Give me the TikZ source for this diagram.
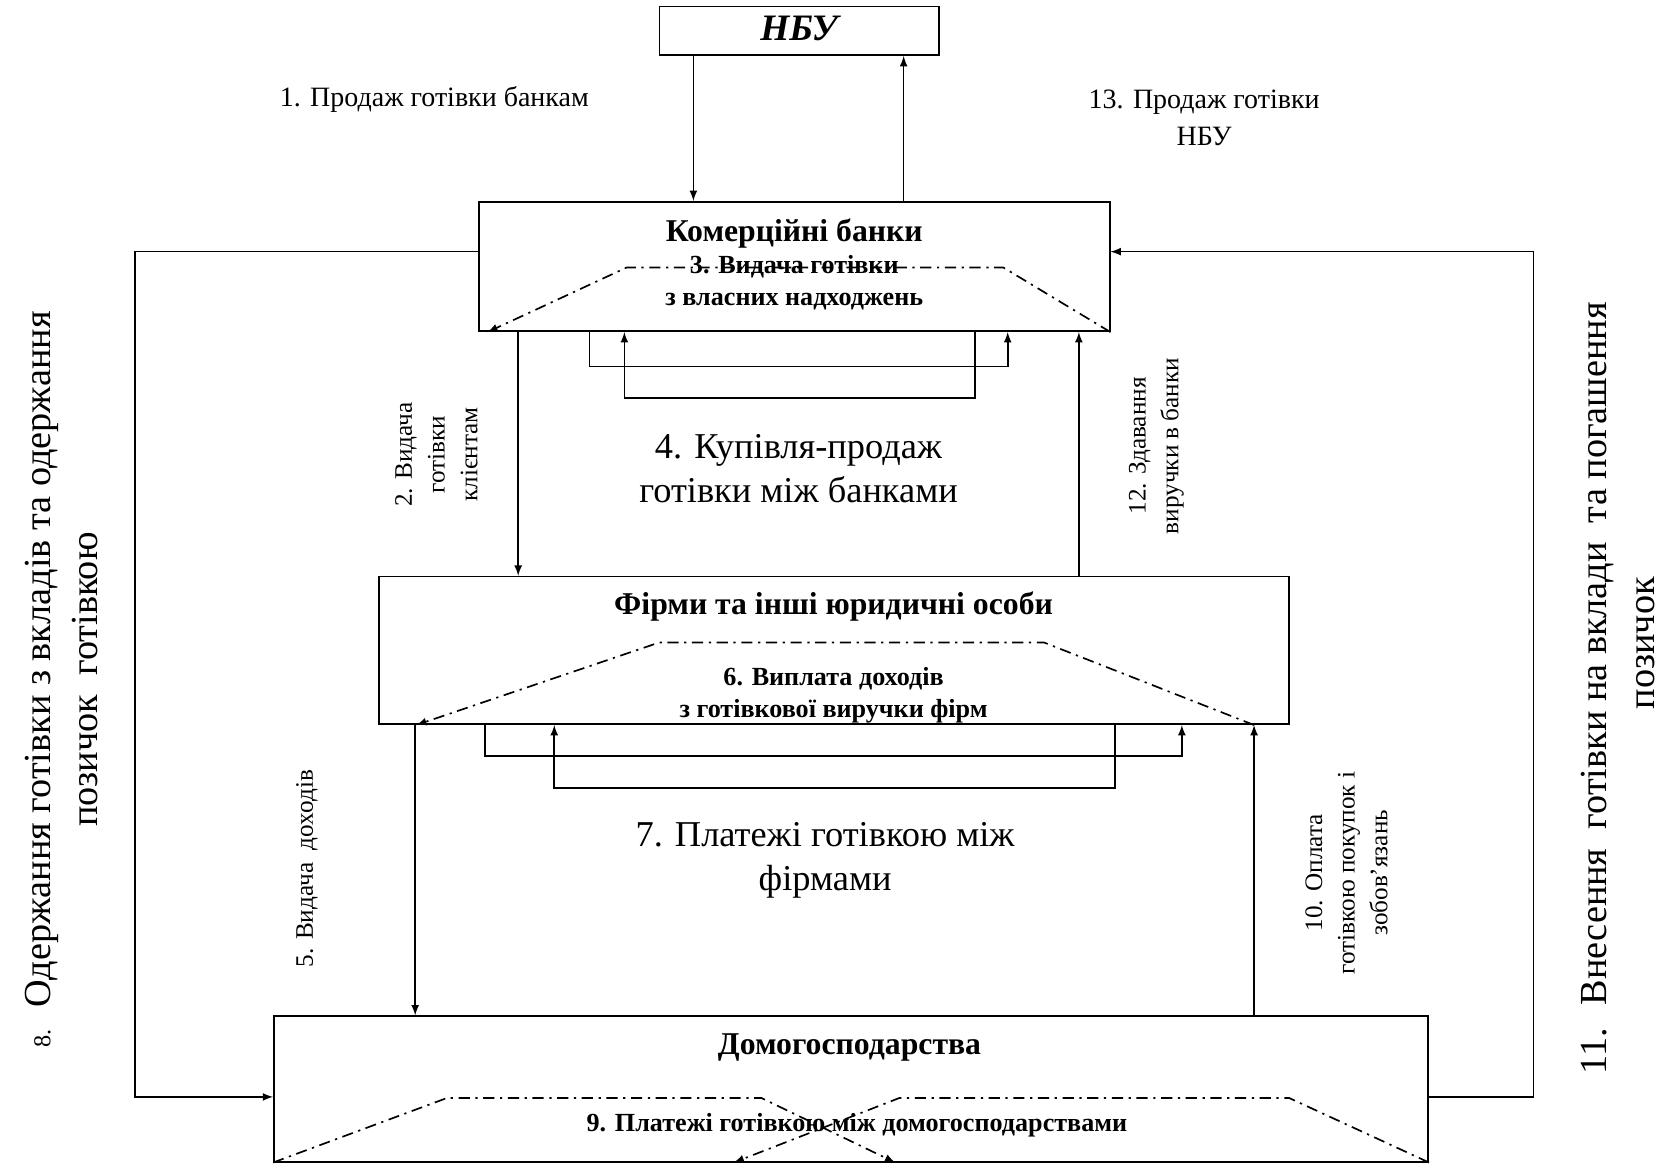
\documentclass[tikz,border=0pt]{standalone}
\usepackage{fontspec}
\setmainfont{Liberation Serif}
\tikzset{
    box/.style={draw,line width=0.9pt,inner sep=0pt},
    arr/.style={-latex,line width=0.9pt},
    dd/.style={dash pattern=on 6pt off 3pt on 1.2pt off 3pt},
    lbl/.style={align=center,font=\fontsize{15}{19.5}\selectfont},
    vlbl/.style={rotate=90,align=center,font=\fontsize{13.5}{17.5}\selectfont},
    ttl/.style={font=\bfseries\fontsize{17}{20}\selectfont},
    inr/.style={align=center,font=\bfseries\fontsize{14}{17}\selectfont},
    big/.style={align=center,font=\fontsize{19.5}{23.5}\selectfont},
    side/.style={rotate=90,align=center,font=\fontsize{20.5}{25.5}\selectfont}
}
\begin{document}
\begin{tikzpicture}[x=0.2mm,y=-0.2mm]
                \useasboundingbox (0,0) rectangle (1568,1096);

                \node[box,minimum width=52.6mm,minimum height=9.2mm,text height=1em,text depth=0pt,font=\bfseries\itshape\fontsize{20}{24}\selectfont] (nbu) at (752.5,29){НБУ};
                \node[box,minimum width=118.8mm,minimum height=24.4mm] (banks) at (748,251){};
                \node[box,minimum width=171.4mm,minimum height=27.8mm] (firms) at (785.5,612.5){};
                \node[box,minimum width=217.4mm,minimum height=27.4mm] (house) at (801.5,1025.5){};

                \node[ttl] (bankst) at (748,220){Комерційні банки};
                \node[ttl] (firmst) at (785,571){Фірми та інші юридичні особи};
                \node[ttl] (houset) at (800,986){Домогосподарства};

                \node[inr] (own) at (748,266){3. Видача готівки\\з власних надходжень};
                \node[inr] (pay) at (785,655){6. Виплата доходів\\з готівкової виручки фірм};
                \node[inr] (hh) at (807,1060){9. Платежі готівкою між домогосподарствами};

                \node[big] (interbank) at (752,441){4. Купівля-продаж\\готівки між банками};
                \node[big] (interfirm) at (777,810){7. Платежі готівкою між\\фірмами};

                \node[lbl] (sell) at (409,94){1. Продаж готівки банкам};
                \node[lbl] (back) at (1134,111){13. Продаж готівки\\НБУ};
                \node[vlbl] (issue) at (411,428){2. Видача\\готівки\\клієнтам};
                \node[vlbl] (deposit) at (1089,420){12. Здавання\\виручки в банки};
                \node[vlbl] (income) at (289,818){5. Видача~ доходів};
                \node[vlbl] (purchase) at (1268,822){10. Оплата\\готівкою покупок і\\зобов’язань};
                \node[side] (get) at (58,640){{\fontsize{13}{15}\selectfont 8.}~ Одержання готівки з вкладів та одержання\\позичок~ готівкою};
                \node[side] (put) at (1524,648){11.~ Внесення~ готівки на вклади~ та погашення\\\hspace*{48pt}позичок};

                \draw[arr] (653,0 |- nbu.south) -- (653,0 |- banks.north);
                \draw[arr] (851,0 |- banks.north) -- (851,0 |- nbu.south);
                \draw[arr] (488,0 |- banks.south) -- (488,0 |- firms.north);
                \draw[arr] (1016,0 |- firms.north) -- (1016,0 |- banks.south);
                \draw[arr] (391,0 |- firms.south) -- (391,0 |- house.north);
                \draw[arr] (1181,0 |- house.north) -- (1181,0 |- firms.south);

                \draw[arr] (banks.west |- 0,237) -- (127,237) |- (house.west |- 0,1033);
                \draw[arr] (house.east |- 0,1033) -| (1444,237) -- (banks.east |- 0,237);

                \draw[arr] (555,0 |- banks.south) |- (949,345) -- (949,0 |- banks.south);
                \draw[arr] (918,0 |- banks.south) |- (588,375) -- (588,0 |- banks.south);
                \draw[arr] (457,0 |- firms.south) |- (1113,712) -- (1113,0 |- firms.south);
                \draw[arr] (1050,0 |- firms.south) |- (522,742) -- (522,0 |- firms.south);

                \draw[arr,dd] (banks.south east) -- (945,252) -- (590,252) -- (459,0 |- banks.south);
                \draw[arr,dd] (1181,0 |- firms.south) -- (983,605) -- (621,605) -- (392,0 |- firms.south);
                \draw[arr,dd] (house.south west) -- (421,1034) -- (717,1034) -- (843,0 |- house.south);
                \draw[arr,dd] (house.south east) -- (1214,1034) -- (847,1034) -- (691,0 |- house.south);
            \end{tikzpicture}
\end{document}
